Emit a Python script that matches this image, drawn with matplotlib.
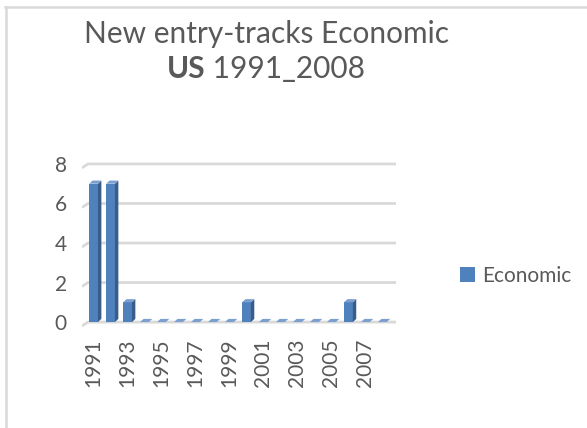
import matplotlib
matplotlib.use("Agg")
import matplotlib.pyplot as plt
from matplotlib.patches import Polygon, Rectangle
from matplotlib.lines import Line2D

years = list(range(1991, 2009))
entries = [7, 7, 1, 0, 0, 0, 0, 0, 0, 1, 0, 0, 0, 0, 0, 1, 0, 0]
series_name = "Economic"

front_col = "#4F81BD"
side_col = "#385D8A"
top_col = "#7BA0D0"
text_col = "#595959"
grid_col = "#D9D9D9"

plt.rcParams['font.family'] = ['Lato', 'DejaVu Sans']

fig = plt.figure(figsize=(5.87, 4.28), dpi=100)
fig.patch.set_facecolor("white")

# chart frame (only top and left edges visible)
fig.add_artist(Line2D([5/587, 1.0], [1 - 7/428, 1 - 7/428], transform=fig.transFigure,
                      color=grid_col, lw=1.8))
fig.add_artist(Line2D([6/587, 6/587], [0, 1 - 7/428], transform=fig.transFigure,
                      color=grid_col, lw=1.8))

ax = fig.add_axes([82/587, 1 - 327/428, 314/587, 167/428])
ax.set_xlim(-0.68, 17.8)
ax.set_ylim(-0.25, 8.2)
for s in ax.spines.values():
    s.set_visible(False)

# gridlines with a small slanted wall edge on the left
xl, xr = -0.68, 17.8
slant_x, slant_y = 0.35, 0.2
for gy in range(0, 9, 2):
    ax.plot([xl, xl + slant_x, xr], [gy - slant_y, gy, gy], color=grid_col, lw=2,
            zorder=1, solid_capstyle='butt')

# 3D-looking bars: front face, right side, top
w = 0.52
dx, dy = 0.2, 0.16
for i, v in enumerate(entries):
    x0, x1 = i - w/2, i + w/2
    ax.add_patch(Rectangle((x0, 0), w, v, facecolor=front_col, edgecolor='none', zorder=3))
    ax.add_patch(Polygon([(x1, 0), (x1 + dx, dy), (x1 + dx, v + dy), (x1, v)],
                         closed=True, facecolor=side_col, edgecolor='none', zorder=3))
    ax.add_patch(Polygon([(x0, v), (x1, v), (x1 + dx, v + dy), (x0 + dx, v + dy)],
                         closed=True, facecolor=top_col, edgecolor='none', zorder=3))

ax.set_yticks(range(0, 9, 2))
ax.set_yticklabels([str(t) for t in range(0, 9, 2)])
ax.set_xticks(range(0, len(years), 2))
ax.set_xticklabels([str(y) for y in years[::2]], rotation=90)
ax.tick_params(axis='y', length=0, pad=11, labelsize=15, labelcolor=text_col)
ax.tick_params(axis='x', length=0, pad=8, labelsize=15, labelcolor=text_col)

# legend
ax.legend([Rectangle((0, 0), 1, 1, facecolor=front_col)], [series_name],
          loc='center left', bbox_to_anchor=(450/587, 1 - 276/428),
          bbox_transform=fig.transFigure, frameon=False, fontsize=15,
          labelcolor=text_col, handlelength=0.7, handleheight=0.7,
          handletextpad=0.35, borderpad=0)

# title, second line has a bold country code
cx = 266/587
fig.text(cx, 1 - 34/428, "New entry-tracks Economic", ha='center', va='center',
         fontsize=21.5, color=text_col)
t1 = fig.text(cx, 1 - 69/428, "US", ha='left', va='center', fontsize=21.5,
              fontweight='bold', color=text_col)
t2 = fig.text(cx, 1 - 69/428, " 1991_2008", ha='left', va='center', fontsize=21.5,
              color=text_col)
fig.canvas.draw()
r = fig.canvas.get_renderer()
w1 = t1.get_window_extent(r).width / fig.bbox.width
w2 = t2.get_window_extent(r).width / fig.bbox.width
start = cx - (w1 + w2) / 2
t1.set_x(start)
t2.set_x(start + w1)

fig.savefig("out.png", dpi=100)
